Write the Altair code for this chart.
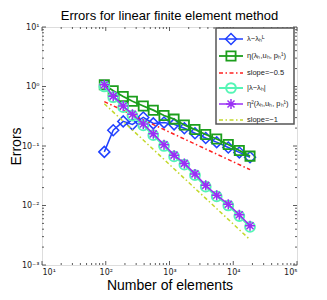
import altair as alt
import pandas as pd

# ---- data ----
n_elements = [95, 131, 188, 262, 388, 557, 820, 1180, 1710, 2510, 3700, 5500, 8360, 12450, 18330]
err_lambda_L = [0.0796, 0.184, 0.259, 0.231, 0.302, 0.240, 0.249, 0.231, 0.199, 0.164, 0.136, 0.116, 0.0944, 0.078, 0.0646]
eta = [1.07, 0.85, 0.68, 0.565, 0.47, 0.40, 0.325, 0.283, 0.226, 0.189, 0.156, 0.131, 0.106, 0.084, 0.0676]
abs_err = [1.00, 0.66, 0.45, 0.325, 0.222, 0.152, 0.100, 0.0668, 0.0485, 0.0323, 0.0207, 0.0142, 0.0100, 0.00663, 0.00436]
eta2 = [1.07, 0.689, 0.471, 0.342, 0.234, 0.160, 0.105, 0.0702, 0.0510, 0.0340, 0.0218, 0.0149, 0.0105, 0.00697, 0.00458]
slope_x = [95, 18330]
slope_half = [0.556, 0.040]
slope_one = [0.514, 0.00266]

labels = ["λ−λₕᴸ", "η(λₕ,uₕ, pₕ¹)", "slope=−0.5", "|λ−λₕ|", "η²(λₕ,uₕ, pₕ¹)", "slope=−1"]
x_major = [10, 100, 1000, 10000, 100000]
y_major = [0.001, 0.01, 0.1, 1, 10]

W, H = 255, 238
FONT = "Liberation Sans"

ASTERISK = "M-1,0L1,0M0,-1L0,1M-0.7,-0.7L0.7,0.7M-0.7,0.7L0.7,-0.7"

xscale = alt.Scale(type="log", domain=[10, 100000], nice=False)
yscale = alt.Scale(type="log", domain=[0.001, 10], nice=False)

sup = "['⁻³','⁻²','⁻¹','⁰','¹','²','³','⁴','⁵'][round(log(datum.value)/LN10)+3]"
xaxis = alt.Axis(values=x_major, ticks=False, domain=False, grid=False,
                 labelExpr="'10' + " + sup, labelFontSize=8, labelFont="DejaVu Sans",
                 labelColor="#222", labelPadding=3, title="Number of elements",
                 titleFont=FONT, titleFontSize=14, titleFontWeight="normal",
                 titlePadding=2, titleColor="#000")
yaxis = alt.Axis(values=y_major, ticks=False, domain=False, grid=False,
                 labelExpr="'10' + " + sup, labelFontSize=8, labelFont="DejaVu Sans",
                 labelColor="#222", labelPadding=3, title="Errors",
                 titleFont=FONT, titleFontSize=14, titleFontWeight="normal",
                 titleColor="#000", titleX=-26, titleY=H / 2, titleAngle=270,
                 titleAlign="center", titleBaseline="middle")

X = alt.X("n:Q", scale=xscale, axis=xaxis)
Y = alt.Y("v:Q", scale=yscale, axis=yaxis)

layers = []

# minor/major ticks inside the box (MATLAB style)
x_minor = [m * 10 ** k for k in range(1, 5) for m in range(2, 10)]
y_minor = [m * 10.0 ** k for k in range(-3, 1) for m in range(2, 10)]
for vals, ln in ((x_major, 4), (x_minor, 2)):
    d = alt.Chart(pd.DataFrame({"n": vals}))
    layers.append(d.mark_rule(color="#333", strokeWidth=0.8).encode(x=X, y=alt.value(H), y2=alt.value(H - ln)))
    layers.append(d.mark_rule(color="#333", strokeWidth=0.8).encode(x=X, y=alt.value(0), y2=alt.value(ln)))
for vals, ln in ((y_major, 4), (y_minor, 2)):
    d = alt.Chart(pd.DataFrame({"v": vals}))
    layers.append(d.mark_rule(color="#333", strokeWidth=0.8).encode(y=Y, x=alt.value(0), x2=alt.value(ln)))
    layers.append(d.mark_rule(color="#333", strokeWidth=0.8).encode(y=Y, x=alt.value(W), x2=alt.value(W - ln)))

BLUE = "#2040ff"
GREEN = "#1c9e1c"
RED = "#ff2020"
CYAN = "#55f5b5"
PURPLE = "#9a30f5"
YGREEN = "#c2d82a"

def series(vals, color, shape, size, sw):
    d = alt.Chart(pd.DataFrame({"n": n_elements, "v": vals}))
    return [
        d.mark_line(color=color, strokeWidth=sw).encode(x=X, y=Y),
        d.mark_point(shape=shape, size=size, color=color, strokeWidth=sw, filled=False, opacity=1).encode(x=X, y=Y),
    ]

def slope(vals, color, dash):
    d = alt.Chart(pd.DataFrame({"n": slope_x, "v": vals}))
    return [d.mark_line(color=color, strokeWidth=1.5, strokeDash=dash).encode(x=X, y=Y)]

DASH = [4, 2.5, 1.5, 2.5]
layers += series(err_lambda_L, BLUE, "diamond", 120, 1.5)
layers += series(eta, GREEN, "square", 85, 1.8)
layers += slope(slope_half, RED, DASH)
layers += series(abs_err, CYAN, "circle", 95, 2)
layers += series(eta2, PURPLE, ASTERISK, 100, 1.5)
layers += slope(slope_one, YGREEN, DASH)

# legend
one = pd.DataFrame({"k": [0]})
layers.append(alt.Chart(one).mark_rect(fill="white", stroke="#555", strokeWidth=1.5).encode(
    x=alt.value(174), x2=alt.value(252), y=alt.value(1), y2=alt.value(97)))
styles = [
    (BLUE, "diamond", 120, 1.5, None),
    (GREEN, "square", 85, 1.8, None),
    (RED, None, 0, 1.5, DASH),
    (CYAN, "circle", 95, 2, None),
    (PURPLE, ASTERISK, 100, 1.5, None),
    (YGREEN, None, 0, 1.5, DASH),
]
row_y = [12, 29, 46, 61, 77, 93]
for lab, (color, shape, size, sw, dash), ly in zip(labels, styles, row_y):
    c = alt.Chart(one)
    kw = dict(color=color, strokeWidth=sw)
    if dash:
        kw["strokeDash"] = dash
    layers.append(c.mark_rule(**kw).encode(x=alt.value(177), x2=alt.value(201), y=alt.value(ly)))
    if shape:
        layers.append(c.mark_point(shape=shape, size=size, color=color, strokeWidth=sw,
                                   filled=False, opacity=1).encode(x=alt.value(189), y=alt.value(ly)))
    layers.append(c.mark_text(text=lab, align="left", baseline="middle", fontSize=7.5,
                              font=FONT, color="#222").encode(x=alt.value(205), y=alt.value(ly)))

chart = alt.layer(*layers).properties(
    width=W, height=H,
    title=alt.TitleParams("Errors for linear finite element method", font=FONT, fontSize=13,
                          fontWeight="normal", color="#000", anchor="middle", offset=0),
    autosize="none",
    padding={"left": 34, "top": 19, "right": 20, "bottom": 26},
).configure_view(stroke="#000", strokeWidth=1).configure(background="white")

chart.save("out.html", embed_options={"renderer": "svg", "actions": False})
